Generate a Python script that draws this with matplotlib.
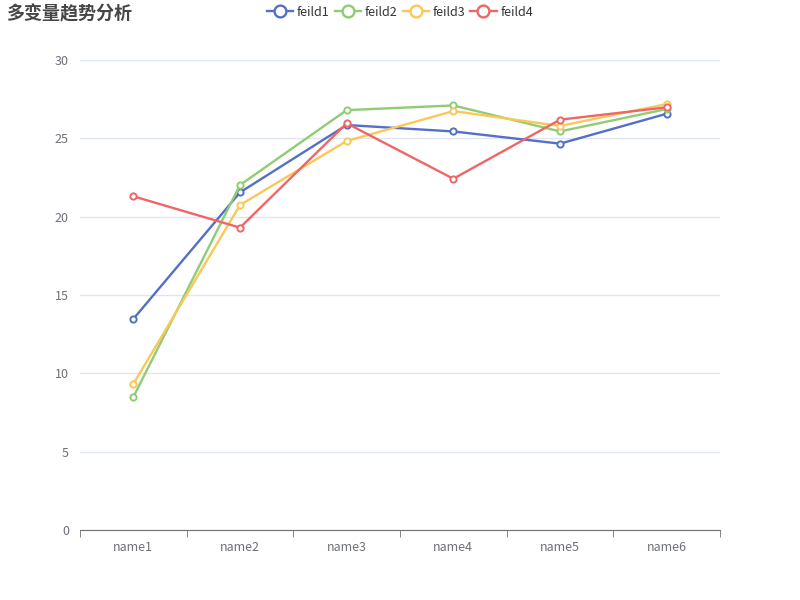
import matplotlib
matplotlib.use("Agg")
import matplotlib.pyplot as plt
from matplotlib.lines import Line2D
import numpy as np

plt.rcParams["font.family"] = ["Noto Sans CJK SC", "DejaVu Sans"]

# ── Data ──────────────────────────────────────────────────────────────────
categories = ["name1", "name2", "name3", "name4", "name5", "name6"]
feild1 = [13.47, 21.55, 25.85, 25.44, 24.66, 26.57]
feild2 = [8.49, 22.02, 26.8, 27.1, 25.44, 26.87]
feild3 = [9.32, 20.74, 24.83, 26.74, 25.79, 27.19]
feild4 = [21.3, 19.3, 25.96, 22.42, 26.19, 26.98]

series = [
    ("feild1", feild1, "#5470c6"),
    ("feild2", feild2, "#91cc75"),
    ("feild3", feild3, "#fac858"),
    ("feild4", feild4, "#ee6666"),
]

AXIS_C = "#6e7079"
GRID_C = "#e0e6f1"

fig = plt.figure(figsize=(8, 6), dpi=100)
ax = fig.add_axes([0.1, 70 / 600, 0.8, 470 / 600])

x = np.arange(len(categories))
for name, vals, color in series:
    ax.plot(x, vals, "-o", color=color, linewidth=1.7, markersize=4.5,
            markerfacecolor="white", markeredgecolor=color, markeredgewidth=1.4,
            label=name, zorder=3)

ax.set_xlim(-0.5, len(categories) - 0.5)
ax.set_ylim(0, 30)
ax.set_yticks(range(0, 31, 5))
ax.grid(axis="y", color=GRID_C, linewidth=1)
ax.set_axisbelow(True)

ax.set_xticks(x)
ax.set_xticklabels(categories)
ax.set_xticks(np.arange(-0.5, len(categories), 1), minor=True)
ax.tick_params(axis="x", which="major", length=0, pad=8, labelsize=9, labelcolor=AXIS_C)
ax.tick_params(axis="x", which="minor", length=5, color=AXIS_C, direction="out")
ax.tick_params(axis="y", length=0, pad=8, labelsize=9, labelcolor=AXIS_C)

for side in ["top", "right", "left"]:
    ax.spines[side].set_visible(False)
ax.spines["bottom"].set_color(AXIS_C)

fig.text(0.008, 0.977, "多变量趋势分析", fontsize=13, fontweight="bold",
         color="#464646", va="center", ha="left")

handles = [Line2D([0], [0], color=c, linewidth=1.7, marker="o", markersize=8.5,
                  markerfacecolor="white", markeredgewidth=1.7, label=n)
           for n, _, c in series]
leg = fig.legend(handles=handles, loc="center", bbox_to_anchor=(0.5, 0.98), ncol=4,
                 frameon=False, fontsize=9, handlelength=2.1, handletextpad=0.3,
                 columnspacing=0.4)
for t in leg.get_texts():
    t.set_color("#333333")

fig.savefig("out.png", dpi=100)
